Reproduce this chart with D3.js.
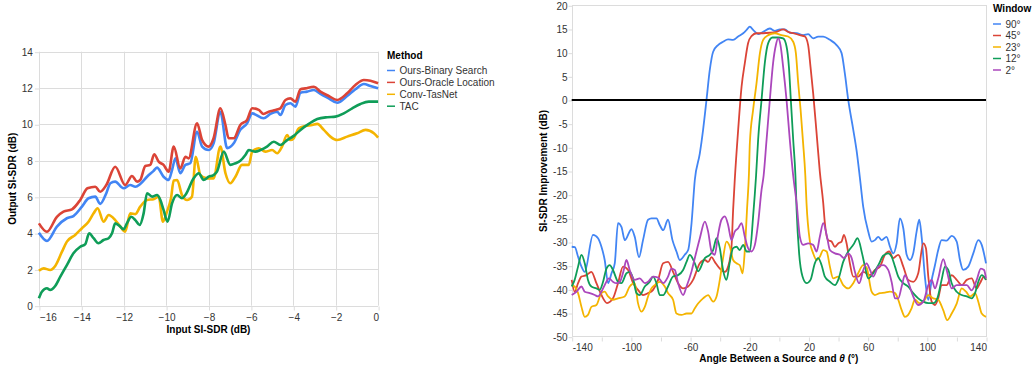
<!DOCTYPE html>
<html>
<head>
<meta charset="utf-8">
<script src="https://cdn.jsdelivr.net/npm/d3@7"></script>
<style>
  body { margin: 0; background: #fff; }
  svg { display: block; font-family: "Liberation Sans", Arial, sans-serif; }
</style>
</head>
<body>
<svg id="chart" width="1032" height="366"></svg>
<script>
// ---- left chart: output vs input SI-SDR ----
const methods = ["Ours-Binary Search", "Ours-Oracle Location", "Conv-TasNet", "TAC"];
const methodColors = ["#4285F4", "#DB4437", "#F4B400", "#0F9D58"];

const binarySearch = [[-16,4.02],[-15.62,3.57],[-15.15,4.36],[-14.68,4.82],[-14.37,4.94],[-13.97,5.46],[-13.66,5.92],[-13.34,6.01],[-13.11,5.61],[-12.82,6.2],[-12.63,6.75],[-12.4,6.84],[-12.01,6.47],[-11.69,6.65],[-11.45,6.56],[-11.22,6.71],[-10.9,7.11],[-10.6,7.42],[-10.43,7.61],[-10.12,7.11],[-9.88,6.93],[-9.72,7.48],[-9.56,8.13],[-9.33,7.3],[-9.09,7.76],[-8.86,7.85],[-8.54,9.59],[-8.3,8.77],[-7.99,8.58],[-7.76,8.95],[-7.44,10.69],[-7.12,8.68],[-6.81,8.95],[-6.5,9.69],[-6.18,10.05],[-5.94,10.6],[-5.4,10.33],[-5.08,10.57],[-4.76,10.69],[-4.61,10.51],[-4.37,11.06],[-4.14,11.16],[-3.9,10.97],[-3.66,11.74],[-3.35,11.8],[-3.03,11.89],[-2.72,11.67],[-2.33,11.43],[-1.93,11.19],[-1.46,11.56],[-1.07,11.93],[-0.67,12.22],[-0.36,12.11],[0,11.98]];
const oracleLocation = [[-16,4.54],[-15.62,4.08],[-15.15,4.9],[-14.84,5.18],[-14.44,5.31],[-14.05,5.83],[-13.71,6.47],[-13.34,6.56],[-13.11,6.28],[-12.82,6.65],[-12.4,7.66],[-11.93,6.65],[-11.61,7.15],[-11.37,6.84],[-11.22,6.93],[-10.98,7.7],[-10.75,7.76],[-10.56,8.35],[-10.35,7.94],[-10.12,7.76],[-9.88,7.39],[-9.64,8.77],[-9.33,7.57],[-9.09,8.21],[-8.94,8.12],[-8.54,10.05],[-8.3,9.13],[-7.99,8.77],[-7.76,9.23],[-7.44,10.88],[-7.2,9.96],[-7.05,9.23],[-6.81,9.23],[-6.5,9.96],[-6.18,10.24],[-5.94,10.88],[-5.63,10.79],[-5.4,10.57],[-5.16,10.69],[-4.84,10.79],[-4.61,10.88],[-4.37,11.34],[-4.14,11.43],[-3.9,11.25],[-3.66,11.93],[-3.43,11.98],[-3.03,12.07],[-2.72,11.8],[-2.33,11.56],[-1.93,11.34],[-1.46,11.71],[-1.07,12.17],[-0.67,12.44],[-0.36,12.4],[0,12.26]];
const convTasNet = [[-16,1.93],[-15.78,2.06],[-15.47,1.97],[-15.23,2.19],[-14.91,2.98],[-14.68,3.53],[-14.29,3.9],[-13.97,4.27],[-13.66,4.63],[-13.42,5.09],[-13.23,5.37],[-12.95,4.63],[-12.71,5.0],[-12.4,4.72],[-12.16,4.36],[-11.93,4.08],[-11.69,5.09],[-11.45,5.05],[-11.22,5.46],[-10.9,5.83],[-10.59,5.87],[-10.35,6.01],[-10.15,4.63],[-9.96,5.18],[-9.77,5.92],[-9.64,6.9],[-9.48,6.93],[-9.25,6.1],[-9.01,5.83],[-8.78,6.01],[-8.6,8.21],[-8.38,7.2],[-8.07,7.02],[-7.76,7.02],[-7.44,8.77],[-7.2,7.3],[-6.97,6.75],[-6.73,7.11],[-6.42,7.76],[-6.1,7.76],[-5.94,8.49],[-5.63,8.68],[-5.32,8.49],[-5.0,8.58],[-4.76,8.4],[-4.53,8.77],[-4.29,9.41],[-4.14,9.13],[-3.98,9.23],[-3.74,9.78],[-3.43,9.91],[-3.11,9.96],[-2.87,10.02],[-2.56,9.69],[-2.25,9.32],[-1.93,9.13],[-1.46,9.32],[-0.99,9.5],[-0.59,9.69],[-0.2,9.5],[0,9.26]];
const tac = [[-16,0.41],[-15.86,0.77],[-15.62,0.96],[-15.47,0.87],[-15.23,1.09],[-14.99,1.6],[-14.68,2.24],[-14.37,2.89],[-14.05,3.25],[-13.81,3.4],[-13.63,3.99],[-13.42,3.72],[-13.19,3.44],[-12.95,3.62],[-12.71,3.72],[-12.55,3.99],[-12.4,4.54],[-12.16,4.36],[-12.01,4.21],[-11.85,4.54],[-11.64,4.9],[-11.45,4.72],[-11.25,4.45],[-11.06,5.09],[-10.9,6.2],[-10.66,6.01],[-10.43,6.1],[-10.27,5.83],[-10.12,5.28],[-9.93,4.63],[-9.72,5.64],[-9.48,6.1],[-9.25,5.92],[-9.09,6.1],[-8.7,7.02],[-8.46,7.3],[-8.23,6.93],[-7.99,7.11],[-7.76,7.2],[-7.6,7.39],[-7.28,8.49],[-6.97,7.76],[-6.73,7.85],[-6.5,7.99],[-6.26,8.31],[-6.1,8.58],[-5.79,8.49],[-5.55,8.58],[-5.24,8.77],[-4.92,9.04],[-4.61,8.86],[-4.29,9.13],[-3.98,9.36],[-3.66,9.69],[-3.27,10.02],[-2.87,10.29],[-2.4,10.39],[-2.01,10.42],[-1.62,10.6],[-1.22,10.88],[-0.83,11.12],[-0.44,11.25],[0,11.25]];

const leftXTicks = [-16, -14, -12, -10, -8, -6, -4, -2, 0];
const leftYTicks = [0, 2, 4, 6, 8, 10, 12, 14];

// ---- right chart: improvement vs angle ----
const windows = ["90°", "45°", "23°", "12°", "2°"];
const windowColors = ["#4285F4", "#DB4437", "#F4B400", "#0F9D58", "#AB47BC"];

const win90 = [[-140,-31.0],[-137.9,-31.1],[-135.7,-33.1],[-133.4,-35.2],[-131.2,-36.3],[-125.6,-28.5],[-122.2,-29.2],[-119.9,-31.0],[-117.7,-33.8],[-115.4,-38.7],[-113.1,-36.6],[-110.9,-34.5],[-108.7,-26.0],[-106.4,-26.8],[-104.1,-29.6],[-99.6,-27.3],[-97.4,-28.9],[-94.5,-33.2],[-91.8,-29.6],[-88.4,-25.3],[-86.1,-25.0],[-82.7,-25.0],[-80.5,-26.4],[-78.2,-27.5],[-74.9,-25.3],[-71.9,-29.6],[-69.2,-32.0],[-67.0,-33.8],[-63.6,-32.7],[-61.3,-31.7],[-59.0,-26.0],[-56.8,-16.9],[-53.4,-11.3],[-51.2,-6.3],[-48.9,0],[-46.7,6.3],[-44.4,10.2],[-41.1,11.6],[-37.7,12.3],[-34.3,12.8],[-30.9,12.7],[-27.5,13.4],[-24.1,14.1],[-21.8,14.8],[-19.6,15.5],[-17.4,14.8],[-14.0,13.9],[-10.6,14.4],[-6.1,15.1],[-2.7,14.6],[0.7,14.9],[4.1,14.9],[7.4,14.2],[12.0,14.1],[16.4,13.7],[19.8,13.9],[23.2,13.0],[26.6,13.4],[30.0,13.4],[34.5,12.7],[39.0,11.6],[42.4,9.9],[44.6,5.6],[46.9,0],[50.3,-6.3],[52.5,-10.6],[54.8,-16.5],[57.0,-22.5],[60.4,-27.8],[62.7,-29.9],[64.9,-29.6],[67.2,-28.9],[69.5,-29.6],[72.8,-28.9],[75.1,-31.0],[77.3,-32.4],[79.6,-30.3],[81.8,-25.0],[84.1,-27.1],[86.4,-32.7],[88.6,-33.8],[90.8,-32.4],[93.1,-27.8],[94.9,-25.3],[96.5,-28.9],[98.7,-37.3],[101.0,-42.2],[103.3,-38.0],[105.5,-34.9],[107.7,-31.7],[110.0,-29.6],[113.4,-29.7],[116.8,-28.7],[120.2,-29.9],[122.4,-33.8],[124.6,-35.9],[128.0,-35.2],[131.4,-32.4],[134.8,-29.6],[137.1,-30.6],[140,-34.5]];
const win45 = [[-140,-38.0],[-138.0,-40.5],[-135.7,-38.7],[-133.4,-37.3],[-130.1,-37.0],[-126.7,-36.3],[-123.3,-38.7],[-119.9,-41.2],[-116.1,-42.9],[-112.1,-41.9],[-108.7,-38.7],[-105.3,-35.2],[-101.9,-35.9],[-98.5,-38.7],[-95.2,-40.1],[-91.8,-41.2],[-88.4,-40.8],[-85.0,-40.1],[-81.6,-38.0],[-78.2,-34.5],[-74.9,-34.2],[-71.5,-36.3],[-68.1,-38.7],[-64.7,-39.8],[-61.3,-39.4],[-58.0,-38.0],[-53.4,-34.5],[-50.0,-33.8],[-47.8,-34.2],[-45.5,-33.2],[-43.3,-34.2],[-39.9,-35.6],[-36.5,-36.3],[-34.3,-35.2],[-32.0,-31.0],[-30.9,-23.2],[-29.8,-16.9],[-27.5,-6.3],[-25.2,2.8],[-23.0,7.8],[-20.8,12.0],[-18.5,13.5],[-15.1,14.1],[-10.6,14.1],[-6.1,14.2],[-1.6,14.4],[2.9,14.9],[6.3,14.4],[9.7,14.1],[14.2,13.7],[17.6,13.4],[19.8,11.6],[21.4,7.0],[23.2,1.4],[25.5,-7.0],[27.7,-15.2],[30.0,-21.8],[31.1,-26.0],[33.3,-29.6],[35.6,-29.9],[37.9,-31.0],[40.1,-30.3],[42.4,-29.9],[44.0,-28.5],[45.8,-30.3],[48.0,-34.5],[50.3,-37.3],[53.6,-37.3],[57.0,-36.3],[61.6,-37.0],[64.9,-35.9],[68.3,-35.2],[71.7,-32.7],[74.6,-32.0],[77.3,-33.4],[80.7,-32.7],[84.1,-35.2],[87.4,-38.0],[90.8,-38.4],[94.2,-36.6],[97.6,-30.3],[99.4,-31.3],[101.0,-37.3],[103.3,-42.6],[105.5,-43.3],[107.7,-41.9],[110.0,-39.1],[113.4,-39.1],[116.8,-37.0],[120.2,-38.0],[123.6,-39.1],[127.0,-38.0],[130.3,-37.7],[133.7,-39.8],[135.9,-38.7],[138.7,-37.3],[140,-38.0]];
const win23 = [[-140,-39.1],[-138.0,-39.4],[-135.7,-40.8],[-133.4,-43.7],[-131.2,-45.8],[-129.0,-45.4],[-126.7,-43.7],[-123.3,-43.3],[-119.9,-40.8],[-117.7,-40.5],[-115.4,-41.5],[-112.1,-42.2],[-108.7,-41.9],[-104.2,-41.5],[-100.8,-39.4],[-97.4,-38.7],[-95.2,-42.9],[-92.9,-44.7],[-90.6,-43.7],[-88.4,-41.5],[-86.1,-39.8],[-83.9,-39.1],[-80.5,-38.4],[-77.1,-39.4],[-74.9,-40.8],[-71.5,-42.2],[-69.2,-45.1],[-65.8,-45.4],[-62.4,-45.1],[-59.0,-45.1],[-56.8,-44.0],[-54.6,-43.0],[-51.2,-41.9],[-47.8,-41.2],[-44.4,-42.6],[-42.1,-41.5],[-39.9,-38.0],[-37.7,-33.4],[-35.4,-29.9],[-33.1,-31.0],[-30.9,-33.8],[-28.6,-34.5],[-26.4,-34.9],[-24.5,-36.6],[-23.0,-31.7],[-21.4,-22.5],[-20.2,-15.5],[-19.6,-9.1],[-17.4,-2.1],[-15.1,3.5],[-12.8,9.9],[-10.6,12.7],[-7.2,13.7],[-2.7,14.1],[1.8,13.7],[6.3,13.4],[9.7,12.3],[11.5,9.9],[13.1,3.5],[14.7,-2.1],[16.4,-9.1],[17.9,-16.0],[18.7,-21.8],[21.0,-29.9],[23.2,-32.4],[25.5,-33.8],[27.7,-33.1],[30.0,-31.7],[32.3,-32.0],[34.5,-35.2],[36.7,-37.7],[40.1,-37.3],[43.5,-39.1],[46.9,-39.8],[50.3,-38.7],[53.6,-36.6],[57.0,-34.9],[59.3,-35.4],[62.7,-40.5],[64.9,-41.2],[68.3,-40.8],[71.7,-40.7],[75.1,-40.5],[78.5,-40.8],[80.7,-42.2],[83.0,-44.4],[85.2,-45.8],[87.4,-45.4],[89.7,-44.0],[92.0,-42.2],[94.9,-42.9],[97.6,-42.6],[101.0,-41.2],[104.4,-41.9],[107.7,-42.2],[111.1,-44.4],[113.8,-46.5],[116.8,-45.1],[120.2,-43.0],[123.6,-39.8],[126.5,-40.5],[129.2,-41.5],[132.6,-40.8],[134.8,-42.6],[137.1,-45.1],[140,-45.8]];
const win12 = [[-140,-39.4],[-138.0,-38.0],[-135.7,-35.2],[-133.4,-32.7],[-131.2,-34.5],[-129.0,-38.0],[-126.7,-39.4],[-123.3,-39.8],[-121.1,-40.1],[-118.8,-38.4],[-116.5,-35.6],[-114.3,-34.9],[-112.1,-35.9],[-108.7,-38.4],[-106.4,-38.7],[-103.0,-36.6],[-100.8,-36.3],[-98.5,-37.7],[-96.2,-40.8],[-94.0,-41.2],[-90.6,-39.4],[-87.2,-38.4],[-85.0,-37.3],[-82.7,-38.7],[-80.5,-41.2],[-78.2,-41.2],[-74.9,-39.4],[-71.5,-37.3],[-68.1,-37.0],[-64.7,-35.9],[-62.4,-34.2],[-60.2,-32.7],[-56.8,-34.5],[-54.6,-36.2],[-50.0,-33.4],[-46.7,-32.7],[-44.4,-31.7],[-42.1,-29.2],[-39.9,-31.3],[-37.7,-35.9],[-35.4,-38.0],[-33.1,-34.2],[-30.9,-31.3],[-28.6,-31.0],[-26.4,-31.7],[-24.1,-30.6],[-21.8,-32.0],[-19.6,-32.0],[-17.4,-24.6],[-15.4,-16.0],[-14.0,-8.4],[-11.7,0],[-9.5,7.8],[-7.2,12.0],[-4.3,13.2],[-0.5,13.2],[2.9,13.0],[5.2,11.3],[6.8,7.0],[8.1,0],[9.7,-8.4],[11.2,-16.0],[12.0,-23.2],[13.7,-32.4],[16.0,-37.3],[18.7,-38.7],[21.4,-38.0],[24.3,-34.5],[26.6,-33.4],[28.9,-34.9],[31.1,-37.3],[34.5,-38.4],[37.9,-39.1],[40.1,-38.0],[43.5,-34.2],[46.9,-32.0],[50.3,-30.6],[53.2,-29.2],[56.3,-32.5],[58.2,-35.2],[60.4,-37.7],[63.8,-36.6],[67.2,-34.9],[70.5,-32.9],[73.9,-32.4],[76.2,-33.1],[78.5,-35.2],[80.7,-37.3],[84.1,-38.7],[87.4,-39.4],[90.8,-40.8],[94.2,-41.9],[97.6,-42.6],[101.0,-42.9],[104.4,-42.9],[107.1,-41.9],[110.0,-38.0],[112.3,-35.2],[114.5,-35.9],[116.8,-38.7],[120.2,-40.5],[123.6,-41.2],[127.0,-41.5],[130.3,-41.9],[132.6,-40.8],[134.8,-38.4],[137.1,-37.0],[140,-38.0]];
const win2 = [[-140,-41.2],[-136.8,-40.5],[-133.4,-39.4],[-131.2,-40.5],[-127.8,-40.8],[-124.4,-41.2],[-122.2,-41.5],[-119.9,-40.5],[-117.7,-39.1],[-114.8,-37.7],[-112.1,-38.4],[-109.8,-38.7],[-107.5,-38.4],[-104.8,-35.9],[-103.0,-33.8],[-100.8,-35.9],[-97.4,-38.0],[-94.0,-37.7],[-90.6,-38.7],[-88.4,-38.4],[-85.0,-37.3],[-81.6,-37.5],[-78.2,-38.7],[-74.9,-37.3],[-72.6,-35.6],[-70.3,-35.9],[-68.1,-38.7],[-64.7,-41.2],[-62.4,-39.4],[-59.0,-36.2],[-56.8,-33.4],[-53.4,-29.2],[-50.0,-25.7],[-47.8,-27.8],[-45.5,-32.0],[-43.3,-32.7],[-41.1,-28.5],[-38.8,-25.3],[-36.5,-24.6],[-34.3,-26.4],[-32.0,-29.6],[-29.8,-27.8],[-27.5,-27.1],[-25.2,-26.0],[-23.0,-28.9],[-20.8,-31.3],[-18.5,-32.0],[-16.2,-30.6],[-14.0,-26.0],[-11.7,-19.0],[-10.3,-16.0],[-8.3,-8.4],[-6.1,0],[-3.9,7.8],[-2.0,11.6],[-0.5,13.0],[1.1,11.6],[2.9,7.0],[5.2,0],[7.4,-8.4],[9.7,-16.0],[12.0,-21.8],[14.2,-28.9],[16.4,-30.6],[19.8,-30.3],[23.2,-30.6],[25.5,-32.0],[27.7,-28.9],[30.0,-26.0],[32.3,-28.5],[34.5,-31.7],[37.9,-32.4],[41.3,-32.7],[44.0,-33.4],[46.9,-32.4],[49.2,-33.4],[51.4,-36.3],[54.3,-38.7],[57.0,-36.0],[59.3,-34.5],[61.6,-35.9],[63.8,-37.3],[67.2,-35.2],[70.5,-34.9],[73.9,-35.9],[76.2,-38.4],[78.5,-41.9],[80.7,-41.9],[83.0,-39.4],[85.2,-37.0],[87.4,-38.4],[90.8,-41.5],[94.2,-43.3],[97.6,-42.6],[101.0,-39.1],[103.3,-38.0],[105.5,-39.8],[107.7,-37.7],[111.1,-33.6],[113.4,-35.9],[116.8,-39.8],[120.2,-39.1],[123.6,-39.1],[127.0,-39.1],[130.3,-40.2],[133.7,-38.0],[136.5,-35.6],[138.7,-35.9],[140,-37.7]];

const rightXTicks = [-140, -120, -100, -80, -60, -40, -20, 0, 20, 40, 60, 80, 100, 120, 140];
const rightXLabels = [-140, -100, -60, -20, 20, 60, 100, 140];
const rightYTicks = [-50, -45, -40, -35, -30, -25, -20, -15, -10, -5, 0, 5, 10, 15, 20];

const svg = d3.select("#chart");
const grid = "#dcdcdc";
const textColor = "#333";

function styleAxis(g) {
  g.selectAll("line").attr("stroke", grid);
  g.selectAll("text").attr("fill", textColor).attr("font-size", 10)
    .attr("font-family", '"Liberation Sans", Arial, sans-serif');
}

// first and last label pushed inside the plot edges
function flush(g) {
  const labels = g.selectAll("text").filter(function() { return d3.select(this).text() !== ""; });
  const n = labels.size();
  labels.each(function(d, i) {
    if (i === 0) d3.select(this).attr("text-anchor", "start");
    if (i === n - 1) d3.select(this).attr("text-anchor", "end");
  });
}

function legend(x, y, title, names, colors, step) {
  const g = svg.append("g").attr("transform", `translate(${x},${y})`);
  g.append("text").attr("font-size", 10).attr("font-weight", "bold").attr("fill", "#000").text(title);
  names.forEach((n, i) => {
    const cy = 12 + i * step;
    g.append("line").attr("x1", 0).attr("x2", 8).attr("y1", cy).attr("y2", cy)
      .attr("stroke", colors[i]).attr("stroke-width", 1.5);
    g.append("text").attr("x", 12.5).attr("y", cy).attr("dy", "0.35em")
      .attr("font-size", 10).attr("fill", textColor).text(n);
  });
}

// ---------- left chart ----------
{
  const x = d3.scaleLinear([-16, 0], [38.9, 378.1]);
  const y = d3.scaleLinear([0, 14], [305.7, 51.7]);
  const g = svg.append("g");

  g.append("g").selectAll("line").data(leftXTicks).join("line")
    .attr("x1", d => Math.round(x(d)) + 0.5).attr("x2", d => Math.round(x(d)) + 0.5)
    .attr("y1", y(0)).attr("y2", y(14)).attr("stroke", grid);
  g.append("g").selectAll("line").data(leftYTicks).join("line")
    .attr("x1", x(-16)).attr("x2", x(0))
    .attr("y1", d => Math.round(y(d)) + 0.5).attr("y2", d => Math.round(y(d)) + 0.5).attr("stroke", grid);

  const gx = g.append("g").attr("transform", `translate(0.5,${Math.round(y(0)) + 0.5})`)
    .call(d3.axisBottom(x).tickValues(leftXTicks).tickSize(4).tickPadding(3).tickFormat(d3.format("d")));
  gx.select(".domain").remove();
  styleAxis(gx);
  flush(gx);

  const gy = g.append("g").attr("transform", `translate(${x(-16)},0.5)`)
    .call(d3.axisLeft(y).tickValues(leftYTicks).tickSize(4).tickPadding(2));
  gy.select(".domain").remove();
  styleAxis(gy);

  const line = d3.line().x(d => x(d[0])).y(d => y(d[1])).curve(d3.curveMonotoneX);
  [binarySearch, oracleLocation, convTasNet, tac].forEach((s, i) => {
    g.append("path").datum(s).attr("fill", "none").attr("stroke", methodColors[i])
      .attr("stroke-width", 2.6).attr("stroke-linejoin", "round").attr("d", line);
  });

  g.append("text").attr("x", (x(-16) + x(0)) / 2).attr("y", 332.5).attr("text-anchor", "middle")
    .attr("font-size", 10).attr("font-weight", "bold").attr("fill", "#000").text("Input SI-SDR (dB)");
  g.append("text").attr("transform", `translate(15.5,${(y(0) + y(14)) / 2}) rotate(-90)`)
    .attr("text-anchor", "middle").attr("font-size", 10).attr("font-weight", "bold").attr("fill", "#000")
    .text("Output SI-SDR (dB)");

  legend(387, 58.5, "Method", methods, methodColors, 11.9);
}

// ---------- right chart ----------
{
  const x = d3.scaleLinear([-140, 140], [571.7, 986]);
  const y = d3.scaleLinear([-50, 20], [336.7, 5.3]);
  const g = svg.append("g");

  g.append("rect").attr("x", Math.round(x(-140)) + 0.5).attr("y", Math.round(y(20)) + 0.5)
    .attr("width", Math.round(x(140) - x(-140))).attr("height", Math.round(y(-50) - y(20)))
    .attr("fill", "none").attr("stroke", grid);

  const gx = g.append("g").attr("transform", `translate(0.5,${Math.round(y(-50)) + 0.5})`)
    .call(d3.axisBottom(x).tickValues(rightXTicks).tickSize(4).tickPadding(2)
      .tickFormat(d => rightXLabels.includes(d) ? String(d) : ""));
  gx.select(".domain").remove();
  styleAxis(gx);
  flush(gx);

  const gy = g.append("g").attr("transform", `translate(${Math.round(x(-140)) + 0.5},0.5)`)
    .call(d3.axisLeft(y).tickValues(rightYTicks).tickSize(4).tickPadding(1).tickFormat(d => String(d)));
  gy.select(".domain").remove();
  styleAxis(gy);

  const line = d3.line().x(d => x(d[0])).y(d => y(d[1])).curve(d3.curveMonotoneX);
  [win90, win45, win23, win12, win2].forEach((s, i) => {
    g.append("path").datum(s).attr("fill", "none").attr("stroke", windowColors[i])
      .attr("stroke-width", 1.8).attr("stroke-linejoin", "round").attr("d", line);
  });

  g.append("line").attr("x1", x(-140)).attr("x2", x(140)).attr("y1", y(0)).attr("y2", y(0))
    .attr("stroke", "#000").attr("stroke-width", 2.2);

  const t = g.append("text").attr("x", (x(-140) + x(140)) / 2).attr("y", 361.5).attr("text-anchor", "middle")
    .attr("font-size", 10).attr("font-weight", "bold").attr("fill", "#000");
  t.append("tspan").text("Angle Between a Source and ");
  t.append("tspan").attr("font-style", "italic").text("θ");
  t.append("tspan").text(" (°)");

  g.append("text").attr("transform", `translate(546.5,${(y(-50) + y(20)) / 2}) rotate(-90)`)
    .attr("text-anchor", "middle").attr("font-size", 10).attr("font-weight", "bold").attr("fill", "#000")
    .text("SI-SDR Improvement (dB)");

  legend(993, 12, "Window", windows, windowColors, 11.5);
}
</script>
</body>
</html>
